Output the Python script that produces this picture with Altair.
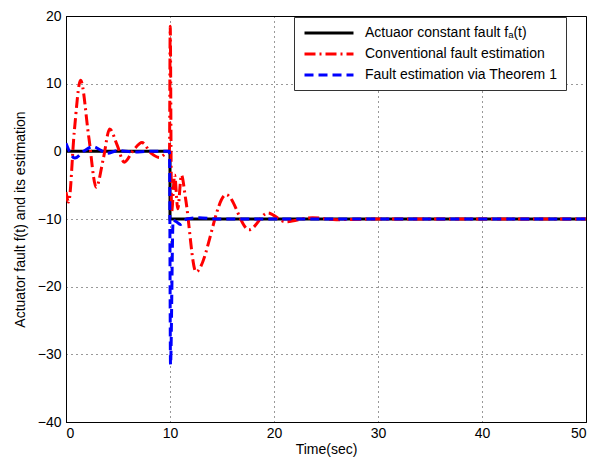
import altair as alt
import pandas as pd

# Series names
NAMES = ["Actuaor constant fault fₐ(t)",
         "Conventional fault estimation",
         "Fault estimation via Theorem 1"]

# Actual fault (step)
t_fault = [0, 10, 10, 50]
v_fault = [0, 0, -10, -10]

# Conventional fault estimation
t_conv = [0, 0.25, 0.8, 1.4, 2.2, 2.9, 3.6, 4.2, 4.9, 5.6, 6.5, 7.3, 8.2, 9.0, 9.6,
          9.95, 10.02, 10.15, 10.45, 10.75, 11.1, 11.5, 12.5, 15.4, 17.6, 19.4,
          21.1, 23.7, 26, 30, 50]
v_conv = [-6, -7.5, 3, 10.5, 2, -5.3, -1, 3.3, 1, -1.6, 0.2, 1.3, -0.3, -0.9, -0.3,
          0, 18.5, -9, -3.5, -8.5, -3.5, -7, -17.8, -6.4, -11.6, -9.1,
          -10.4, -9.8, -10.1, -10, -10]

# Fault estimation via Theorem 1
t_thm = [0, 0.85, 1.7, 2.6, 3.3, 3.9, 5, 6.5, 8, 9.95, 10.05, 10.3, 10.6, 11.0,
         11.6, 12.8, 14.5, 50]
v_thm = [1.2, -1.0, 0.0, 0.7, 0.2, -0.3, 0.1, -0.1, 0.0, 0.0, -31.5, -10.2, -10.4,
         -10.8, -10.0, -9.8, -10, -10]

x_ticks = [0, 10, 20, 30, 40, 50]
y_ticks = [-40, -30, -20, -10, 0, 10, 20]

def frame(ts, vs, name):
    return pd.DataFrame({"t": ts, "v": vs, "series": name, "i": list(range(len(ts)))})

df = pd.concat([
    frame(t_fault, v_fault, NAMES[0]),
    frame(t_conv, v_conv, NAMES[1]),
    frame(t_thm, v_thm, NAMES[2]),
])

FONT = "Liberation Sans"

color = alt.Color("series:N",
                  scale=alt.Scale(domain=NAMES, range=["#000000", "#ff0000", "#0000ff"]),
                  legend=alt.Legend(title=None, orient="none", legendX=228, legendY=1,
                                    symbolType="M-4,0L4,0", symbolSize=150,
                                    symbolStrokeWidth=3, symbolOffset=19,
                                    labelFont=FONT, labelFontSize=14, labelColor="#000",
                                    labelLimit=400, labelOffset=28, rowPadding=6,
                                    padding=8, strokeColor="#333", fillColor="white",
                                    cornerRadius=0))
dash = alt.StrokeDash("series:N",
                      scale=alt.Scale(domain=NAMES, range=[[1, 0], [11, 4, 2, 4], [9, 5]]),
                      legend=None)

x = alt.X("t:Q", scale=alt.Scale(domain=[0, 50], nice=False),
          axis=alt.Axis(values=x_ticks, title="Time(sec)", grid=True))
y = alt.Y("v:Q", scale=alt.Scale(domain=[-40, 20], nice=False),
          axis=alt.Axis(values=y_ticks, title="Actuator fault f(t) and its estimation", grid=True))

layers = []
for k, name in enumerate(NAMES):
    interp = "linear" if k == 0 else "monotone"
    layers.append(
        alt.Chart(df).transform_filter(alt.datum.series == name)
        .mark_line(strokeWidth=3, interpolate=interp, clip=True)
        .encode(x=x, y=y, color=color, strokeDash=dash, order="i:Q")
    )

chart = alt.layer(*layers).properties(
    width=520, height=406,
    autosize=alt.AutoSizeParams(type="none"),
    padding={"left": 58, "top": 8, "right": 3, "bottom": 41},
    background="white",
).configure_axis(
    labelFont=FONT, labelFontSize=14, labelColor="#000",
    titleFont=FONT, titleFontSize=14, titleFontWeight="normal", titleColor="#000",
    domainColor="#000", ticks=False, labelPadding=4,
    gridColor="#000", gridDash=[1, 4], gridOpacity=0.8, gridWidth=1,
).configure_axisY(titlePadding=10, labelPadding=5).configure_axisX(titlePadding=2).configure_view(
    stroke="#000", strokeWidth=1
)

chart.save("out.html", embed_options={"renderer": "svg", "actions": False})
